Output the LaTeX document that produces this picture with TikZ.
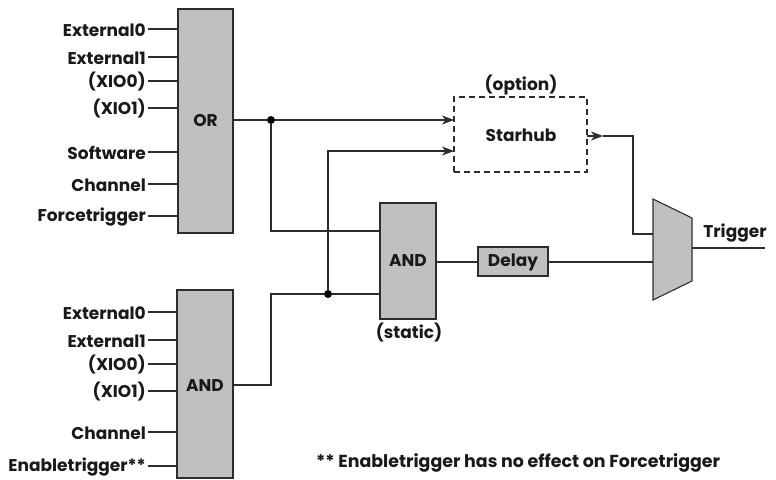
\documentclass[tikz,border=0pt]{standalone}
\usepackage{fontspec}
\setmainfont{Poppins}
\usetikzlibrary{arrows.meta,calc}
\definecolor{boxgray}{RGB}{192,192,192}
\definecolor{ln}{RGB}{45,45,45}
\tikzset{
  x=1pt,y=-1pt,
  txtfont/.style={font=\fontsize{17}{19}\selectfont\bfseries,inner sep=0pt,text=black!90},
  txt/.style={txtfont,yshift=-1pt},
  lab/.style={txt,anchor=east},
  gate/.style={draw=ln,line width=1.1pt,fill=boxgray,inner sep=0pt},
  wire/.style={draw=ln,line width=1.1pt},
  arr/.style={wire,-{Stealth[length=12pt,width=9pt,inset=3.5pt]}},
  dot/.style={circle,fill=black,inner sep=0pt,minimum size=8pt}
}
\begin{document}
\begin{tikzpicture}
\useasboundingbox (0,0) rectangle (776,479);
\node[gate,minimum width=55pt,minimum height=224pt] (orb) at (205.5,121) {};
\node[txt] (ort) at (205.5,120) {OR};
\node[gate,minimum width=56pt,minimum height=188pt] (andl) at (205,384) {};
\node[txt] (andlt) at (205,385) {AND};
\node[gate,minimum width=56pt,minimum height=116pt] (andm) at (408,261) {};
\node[txt] (andmt) at (408,260) {AND};
\node[gate,minimum width=70pt,minimum height=29pt] (delay) at (513,261.5) {};
\node[txt] (delayt) at (513,261) {Delay};
\node[draw=ln,dash pattern=on 6pt off 4pt,line width=1.1pt,minimum width=133pt,minimum height=75pt,inner sep=0pt] (star) at (520.5,134.5) {};
\node[txt] (startxt) at (521,134) {Starhub};
\node[txt] (opt) at (521,84) {(option)};
\node[txt] (stat) at (409,332) {(static)};
\node[txt] (trg) at (735,232) {Trigger};
\node[txt,anchor=west,font=\fontsize{17.4}{19}\selectfont\bfseries] (note) at (316,462) {** Enabletrigger has no effect on Forcetrigger};
\draw[wire,fill=boxgray] (653,199) coordinate (mA) -- (692,218) -- (692,281) -- (653,300) -- cycle;
\foreach \n/\t/\y in {a/External0/29,b/External1/57,c/(XIO0)/81,d/(XIO1)/108,e/Software/152,f/Channel/184,g/Forcetrigger/216}{
  \node[lab] (o\n) at (146,\y) {\t};
  \draw[wire] ($(o\n.east)+(2,-1)$) -- (178,\y);
}
\foreach \n/\t/\y in {a/External0/312,b/External1/340,c/(XIO0)/364,d/(XIO1)/391,e/Channel/432,f/Enabletrigger**/466}{
  \node[lab] (l\n) at (146,\y) {\t};
  \draw[wire] ($(l\n.east)+(2,-1)$) -- (177,\y);
}
\node[dot] (j1) at (271,120) {};
\node[dot] (j2) at (328,294) {};
\coordinate (i1) at (454,120);
\coordinate (i2) at (454,151);
\draw[arr] (233,120) -- (j1) -- (i1);
\draw[wire] (j1) -- (271,231) -- (380,231);
\draw[wire] (233,385) -- (271,385) -- (271,294) -- (j2) -- (380,294);
\draw[arr] (j2) -- (328,151) -- (i2);
\draw[wire] (436,262) -- (478,262);
\draw[wire] (548,262) -- (653,262);
\coordinate (t1) at (603,136);
\draw[arr] (587,136) -- (t1);
\draw[wire] (t1) -- (633,136) -- (633,234) -- (653,234);
\draw[wire] (692,248) -- (765,248);
\end{tikzpicture}
\end{document}
